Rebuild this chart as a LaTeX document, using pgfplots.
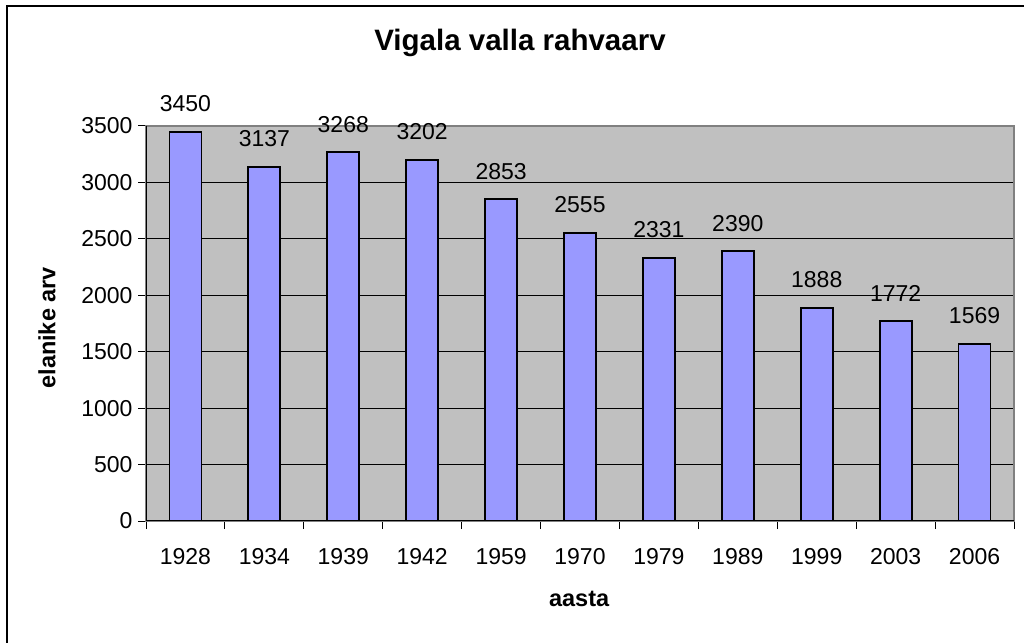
\documentclass[border=0pt]{standalone}
\usepackage{fontspec}
\setmainfont{Liberation Sans}
\usepackage{pgfplots}
\pgfplotsset{compat=1.18}
\definecolor{barblue}{HTML}{9999FF}
\definecolor{plotgray}{HTML}{C0C0C0}
\definecolor{edgegray}{HTML}{808080}
\begin{document}
\begin{tikzpicture}
\path[use as bounding box] (0bp,0bp) rectangle (1024bp,643bp);
\draw[line width=2.2bp,black] (7bp,0bp) -- (7bp,637bp) -- (1024bp,637bp);
\node[font=\fontsize{29.5bp}{34bp}\selectfont\bfseries] at (520bp,600bp) {Vigala valla rahvaarv};
\begin{axis}[
  at={(146bp,122bp)}, anchor=south west,
  scale only axis, width=868bp, height=395bp,
  xmin=-0.5, xmax=10.5, ymin=0, ymax=3500,
  ybar, bar width=32bp,
  axis background/.style={fill=plotgray},
  axis line style={draw=edgegray, line width=1.5bp},
  xtick={0,...,10},
  xticklabels={1928,1934,1939,1942,1959,1970,1979,1989,1999,2003,2006},
  minor xtick={-0.5,0.5,...,10.5},
  ytick={0,500,...,3500},
  tick align=outside,
  xtick pos=left, ytick pos=left,
  major tick length=8bp, minor tick length=8bp,
  major x tick style={draw=none},
  tick style={black, line width=1bp},
  ymajorgrids, grid style={black, line width=1bp},
  /pgf/number format/assume math mode=true,
  /pgf/number format/1000 sep={},
  ticklabel style={font=\fontsize{23bp}{27bp}\selectfont},
  xticklabel style={yshift=-16bp},
  yticklabel style={xshift=-2bp},
  xlabel={aasta}, ylabel={elanike arv},
  label style={font=\fontsize{23.5bp}{28bp}\selectfont\bfseries},
  xlabel style={at={(axis description cs:0.499,-0.197)}, anchor=center},
  ylabel style={at={(axis description cs:-0.114,0.489)}, anchor=center},
  nodes near coords,
  nodes near coords style={font=\fontsize{23bp}{27bp}\selectfont, anchor=base, yshift=20bp, black},
]
\addplot[fill=barblue, draw=black, line width=1.8bp] coordinates {
(0,3450) (1,3137) (2,3268) (3,3202) (4,2853) (5,2555) (6,2331) (7,2390) (8,1888) (9,1772) (10,1569)};
\draw[edgegray, line width=1.5bp] (rel axis cs:0,1) -- (rel axis cs:1,1) -- (rel axis cs:1,0);
\draw[black, line width=1.5bp] (rel axis cs:0,1) -- (rel axis cs:0,0) -- (rel axis cs:1,0);
\end{axis}
\end{tikzpicture}
\end{document}
